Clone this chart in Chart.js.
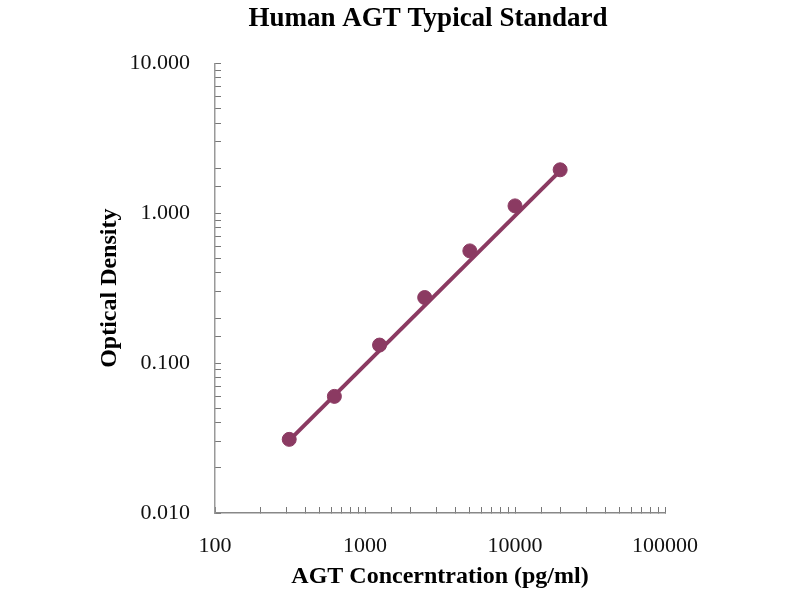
<!DOCTYPE html>
<html>
<head>
  <meta charset="utf-8">
  <title>Human AGT Typical Standard</title>
  <script src="https://cdn.jsdelivr.net/npm/chart.js"></script>
  <style>
    html, body { margin: 0; padding: 0; background: #fff; }
    canvas { display: block; }
  </style>
</head>
<body>
  <canvas id="stdCurve" width="800" height="600"></canvas>
  <script>
    // standard curve values
    const concentrations = [312.5, 625, 1250, 2500, 5000, 10000, 20000];
    const odValues = [0.031, 0.060, 0.132, 0.274, 0.561, 1.12, 1.95];

    // fitted trend line (end points)
    const trendX = [312.5, 20000];
    const trendY = [0.0305, 1.92];

    const xTickLabels = ['100', '1000', '10000', '100000'];
    const yTickLabels = ['0.010', '0.100', '1.000', '10.000'];

    const colour = '#8B3A62';
    const serif = 'Liberation Serif, Times New Roman, serif';

    function isDecade(v) {
      const l = Math.log10(v);
      return Math.abs(l - Math.round(l)) < 1e-9;
    }

    const ctx = document.getElementById('stdCurve').getContext('2d');
    new Chart(ctx, {
      type: 'scatter',
      data: {
        datasets: [
          {
            label: 'Trend',
            data: trendX.map((x, i) => ({ x: x, y: trendY[i] })),
            showLine: true,
            borderColor: colour,
            borderWidth: 4,
            pointRadius: 0,
            order: 2
          },
          {
            label: 'Standard',
            data: concentrations.map((x, i) => ({ x: x, y: odValues[i] })),
            backgroundColor: colour,
            borderColor: colour,
            pointRadius: 7,
            order: 1
          }
        ]
      },
      options: {
        responsive: false,
        animation: false,
        layout: { padding: { left: 56, right: 0, top: 0, bottom: 8 } },
        plugins: {
          legend: { display: false },
          tooltip: { enabled: false },
          title: {
            display: true,
            text: 'Human AGT Typical Standard',
            color: '#000',
            font: { family: serif, size: 27, weight: 'bold' },
            padding: { top: 3, bottom: 28 }
          }
        },
        scales: {
          x: {
            type: 'logarithmic',
            min: 100,
            max: 100000,
            grid: { drawOnChartArea: false, tickLength: -6, color: '#777' },
            border: { color: '#888', width: 1.5 },
            ticks: {
              autoSkip: false,
              maxRotation: 0,
              padding: 26,
              color: '#111',
              font: { family: serif, size: 22 },
              callback: v => isDecade(v) ? xTickLabels[Math.round(Math.log10(v)) - 2] : ''
            },
            title: {
              display: true,
              text: 'AGT Concerntration (pg/ml)',
              color: '#000',
              font: { family: serif, size: 24, weight: 'bold' },
              padding: { top: 0, bottom: 1 }
            },
            afterFit: s => { s.height = 79; }
          },
          y: {
            type: 'logarithmic',
            min: 0.01,
            max: 10,
            grid: { drawOnChartArea: false, tickLength: -6, color: '#777' },
            border: { color: '#999', width: 1.5 },
            ticks: {
              autoSkip: false,
              padding: 31,
              color: '#111',
              font: { family: serif, size: 22 },
              callback: v => isDecade(v) ? yTickLabels[Math.round(Math.log10(v)) + 2] : ''
            },
            title: {
              display: true,
              text: 'Optical Density',
              color: '#000',
              font: { family: serif, size: 24, weight: 'bold' },
              padding: { top: 39, bottom: 0 }
            },
            afterFit: s => { s.width = 159; }
          },
          spacer: {
            type: 'linear',
            position: 'right',
            display: true,
            grid: { display: false },
            border: { display: false },
            ticks: { display: false },
            afterFit: s => { s.width = 135; }
          }
        }
      }
    });
  </script>
</body>
</html>
